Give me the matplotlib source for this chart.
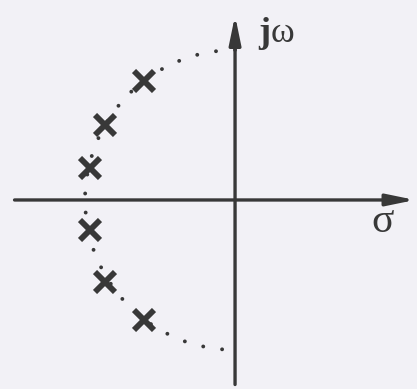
import matplotlib.pyplot as plt
from matplotlib.patches import Arc

# pole positions (radius of the dotted circle = 1)
pole_re = [-0.61, -0.87, -0.97, -0.97, -0.87, -0.61]
pole_im = [0.79, 0.50, 0.21, -0.20, -0.55, -0.80]
circle_radius = 1.0

ink = '#383838'
paper = '#f2f1f6'

fig = plt.figure(figsize=(4.17, 3.89), dpi=100, facecolor=paper)
ax = fig.add_axes([0, 0, 1, 1], facecolor=paper)
ax.set_xlim(-1.567, 1.213)
ax.set_ylim(-1.26, 1.333)
ax.axis('off')

# axes with arrow heads
arrow = dict(arrowstyle='-|>,head_length=1.7,head_width=0.35', lw=2.4, color=ink,
             shrinkA=0, shrinkB=0)
ax.annotate('', xy=(1.20, 0), xytext=(-1.47, 0), arrowprops=arrow)
ax.annotate('', xy=(0, 1.23), xytext=(0, -1.23), arrowprops=arrow)

# dotted half circle in the left half plane
arc = Arc((0, 0), 2 * circle_radius, 2 * circle_radius, theta1=90, theta2=270,
          color=ink, lw=2.8, linestyle=(0, (0.01, 4.9)), capstyle='round')
ax.add_patch(arc)

# poles
ax.plot(pole_re, pole_im, 'x', color=ink, markersize=14, markeredgewidth=4.2, zorder=5)

ax.text(0.155, 1.05, 'j', fontsize=26, fontweight='bold', family='Liberation Serif',
        color=ink, va='baseline', ha='left')
ax.text(0.235, 1.05, 'ω', fontsize=26, family='Liberation Serif',
        color=ink, va='baseline', ha='left')
ax.text(1.055, -0.215, 'σ', fontsize=30, family='Liberation Serif',
        color=ink, va='baseline', ha='right')

fig.savefig('out.png', dpi=100, facecolor=paper)
